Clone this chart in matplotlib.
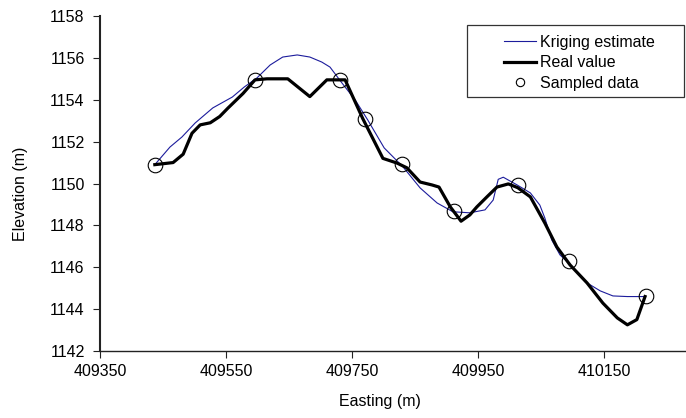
import matplotlib
matplotlib.use("Agg")
import matplotlib.pyplot as plt
from matplotlib.lines import Line2D
from matplotlib.patches import Rectangle

plt.rcParams['font.family'] = ['Liberation Sans', 'DejaVu Sans']

# sampled elevations along the transect
sample_x = [409437, 409596, 409731, 409771, 409830, 409912, 410013, 410095, 410216]
sample_z = [1150.9, 1154.95, 1154.95, 1153.1, 1150.95, 1148.7, 1149.95, 1146.3, 1144.65]

# true profile
real_x = [409437, 409466, 409482, 409496, 409509, 409525, 409540, 409553, 409577,
          409596, 409615, 409648, 409683, 409710, 409739, 409767, 409799, 409821,
          409837, 409858, 409877, 409888, 409906, 409923, 409937, 409948, 409964,
          409980, 409998, 410013, 410033, 410056, 410075, 410096, 410123, 410148,
          410171, 410187, 410202, 410215]
real_z = [1150.9, 1151.0, 1151.4, 1152.4, 1152.8, 1152.9, 1153.2, 1153.6, 1154.3,
          1154.95, 1155.0, 1155.0, 1154.15, 1154.95, 1154.95, 1153.1, 1151.2, 1150.98,
          1150.75, 1150.07, 1149.93, 1149.83, 1148.88, 1148.2, 1148.5, 1148.88, 1149.36,
          1149.83, 1149.98, 1149.8, 1149.36, 1148.11, 1146.97, 1146.11, 1145.25, 1144.29,
          1143.58, 1143.25, 1143.5, 1144.6]

# kriging estimate
krig_x = [409437, 409461, 409480, 409501, 409529, 409560, 409579, 409599, 409620,
          409640, 409663, 409683, 409702, 409715, 409734, 409755, 409775, 409801,
          409831, 409858, 409885, 409910, 409937, 409961, 409974, 409982, 409990,
          410012, 410033, 410048, 410056, 410067, 410080, 410094, 410123, 410144,
          410164, 410187, 410215]
krig_z = [1150.9, 1151.74, 1152.22, 1152.89, 1153.61, 1154.13, 1154.61, 1155.04, 1155.66,
          1156.04, 1156.14, 1156.04, 1155.8, 1155.56, 1154.8, 1153.99, 1153.03, 1151.7,
          1150.79, 1149.79, 1149.07, 1148.65, 1148.6, 1148.74, 1149.21, 1150.2, 1150.3,
          1149.93, 1149.55, 1148.97, 1148.35, 1147.3, 1146.59, 1146.2, 1145.25, 1144.87,
          1144.63, 1144.6, 1144.6]

fs = 11.5

fig = plt.figure(figsize=(6.86, 4.18), dpi=100)
ax = fig.add_axes([100/686, 1 - 351/418, 586/686, 335/418])

ax.plot(krig_x, krig_z, color='#1c1c9c', lw=0.8, zorder=2)
ax.plot(real_x, real_z, color='black', lw=2.3, zorder=3)
ax.plot(sample_x, sample_z, 'o', ms=10.5, mfc='none', mec='black', mew=0.8, zorder=4)

ax.set_xlim(409350, 410280)
ax.set_ylim(1142, 1158)
ax.set_xticks([409350, 409550, 409750, 409950, 410150])
ax.set_yticks(range(1142, 1159, 2))

for s in ['top', 'right']:
    ax.spines[s].set_visible(False)
ax.spines['left'].set_linewidth(1.5)
ax.spines['left'].set_color('#222222')
ax.spines['bottom'].set_linewidth(1.0)
ax.spines['bottom'].set_color('#222222')
ax.tick_params(direction='out', length=5, width=0.8, color='#222222', labelsize=fs)
ax.tick_params(axis='y', pad=6)
ax.tick_params(axis='x', pad=4)

ax.set_xlabel('Easting (m)', fontsize=fs)
ax.set_ylabel('Elevation (m)', fontsize=fs)
ax.xaxis.set_label_coords(0.478, -0.128)
ax.yaxis.set_label_coords(-0.123, 0.47)

# legend with a wide rectangular frame
handles = [Line2D([], [], color='#1c1c9c', lw=0.8),
           Line2D([], [], color='black', lw=2.3),
           Line2D([], [], ls='none', marker='o', ms=6, mfc='none', mec='black', mew=0.8)]
fig.legend(handles, ['Kriging estimate', 'Real value', 'Sampled data'],
           loc='upper left', bbox_to_anchor=(496/686, 1 - 27/418),
           frameon=False, borderpad=0, handlelength=2.0, handletextpad=0.25,
           labelspacing=0.33, fontsize=fs)
fig.add_artist(Rectangle((467/686, 1 - 97/418), 217/686, 72/418,
                         transform=fig.transFigure, fill=False,
                         edgecolor='#333333', lw=0.9))

fig.savefig('out.png', dpi=100)
